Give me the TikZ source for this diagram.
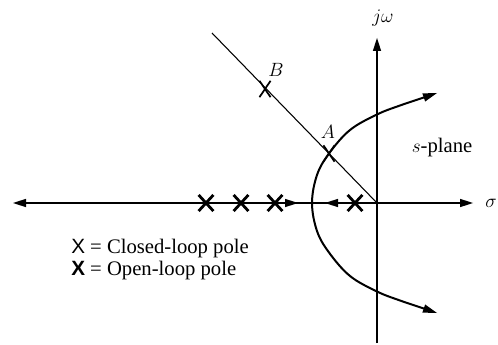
\documentclass[tikz,border=0pt]{standalone}
\usepackage{fontspec}
\setmainfont{Liberation Serif}
\newfontfamily\keyfont{Liberation Sans}
\usepackage{tikz}
\usetikzlibrary{shapes.misc}
\usetikzlibrary{calc}

\tikzset{
  olpole/.style={cross out,draw,line width=2.1pt,minimum width=9pt,minimum height=10pt,inner sep=0pt},
  clpole/.style={cross out,draw,line width=1.3pt,minimum width=7pt,minimum height=11pt,inner sep=0pt},
  axisline/.style={line width=1.1pt},
  locus/.style={line width=1.5pt},
  tiphead/.style={fill={rgb, 255:red, 0; green, 0; blue, 0 },line width=0.08,draw opacity=0}
}

\begin{document}
\begin{tikzpicture}[x=0.75pt,y=0.75pt,yscale=-1,xscale=1,
  every node/.append style={font=\fontsize{15.5}{18}\selectfont}]
\useasboundingbox (0,0) rectangle (498,345);

%Coordinates
\coordinate (O) at (377,203);
\coordinate (reL) at (13,203);
\coordinate (reR) at (473,203);
\coordinate (imT) at (377,38);
\coordinate (imB) at (377,343);
\coordinate (diag) at (212,33);

%Straight Lines (real axis)
\draw [axisline]   ($(reL)+(8,0)$) -- ($(reR)+(-8,0)$) ;
\draw [shift={(reL)}, rotate = 0] [tiphead] (13,-4.2) -- (0,0) -- (13,4.2) -- cycle    ;
\draw [shift={(reR)}, rotate = 180] [tiphead] (13,-4.2) -- (0,0) -- (13,4.2) -- cycle    ;
%Straight Lines (imaginary axis)
\draw [axisline]   (imB) -- ($(imT)+(0,8)$) ;
\draw [shift={(imT)}, rotate = 90] [tiphead] (13,-4.2) -- (0,0) -- (13,4.2) -- cycle    ;
%Arrow marks on the real axis
\draw [shift={(298,203)}, rotate = 180] [tiphead] (13,-4.2) -- (0,0) -- (13,4.2) -- cycle    ;
\draw [shift={(325,203)}, rotate = 0] [tiphead] (13,-4.2) -- (0,0) -- (13,4.2) -- cycle    ;

%Straight Lines (damping line)
\draw [line width=0.8pt]   (diag) -- (O) ;

%Curve Lines (locus)
\draw [locus] plot [smooth, tension=0.6] coordinates {(430,95.5) (400,105.5) (377,114.5) (350,130) (329,153.5) (317,175) (312,203) (317,231) (329,252.5) (350,276) (377,291.5) (400,300.5) (430,310.5)};
\draw [shift={(437,93)}, rotate = 161.3] [tiphead] (14,-4.3) -- (0,0) -- (14,4.3) -- cycle    ;
\draw [shift={(437,313)}, rotate = -161.3] [tiphead] (14,-4.3) -- (0,0) -- (14,4.3) -- cycle    ;

%Poles
\foreach \px [count=\i] in {206,241,275,355}
  \node [olpole] (ol\i) at (\px,203) {};
\node [clpole] (ptA) at (329,153.5) {};
\node [clpole] (ptB) at (265,89) {};

% Text Node
\draw (383,18) node (jw) {$j\omega$};
% Text Node
\draw (491,203) node (sig) {$\sigma$};
% Text Node
\draw (442,148) node (spl) {$s$-plane};
% Text Node
\draw (276,70) node (lblB) {$B$};
% Text Node
\draw (328,132) node (lblA) {$A$};
% Text Node
\draw (70,249) node (keyCL) [anchor=west, inner sep=0.75pt] {{\keyfont X} = Closed-loop pole};
% Text Node
\draw (70,271) node (keyOL) [anchor=west, inner sep=0.75pt] {{\keyfont\bfseries X} = Open-loop pole};

\end{tikzpicture}
\end{document}
